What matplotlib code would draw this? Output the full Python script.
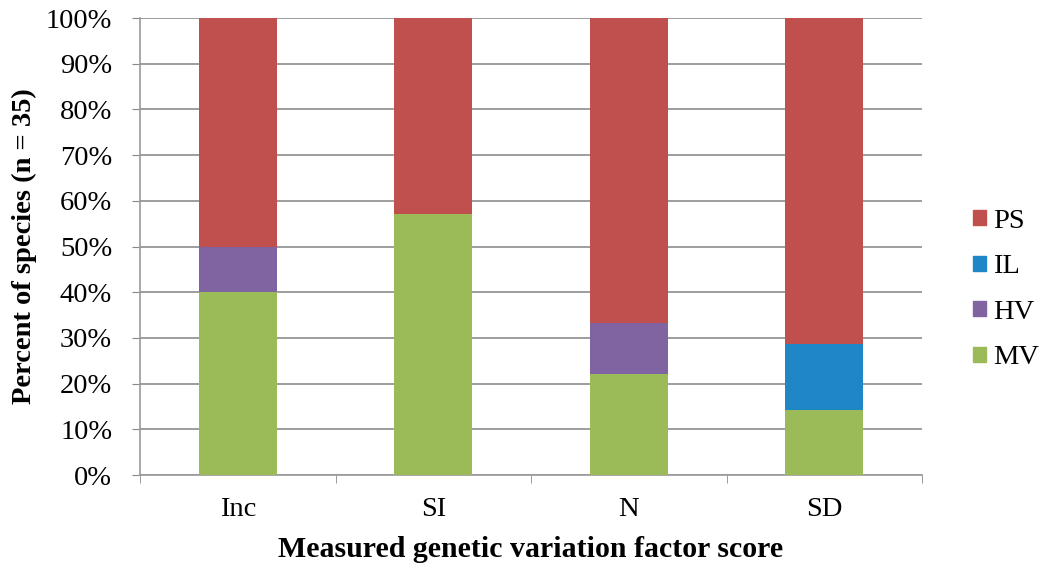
import matplotlib
matplotlib.use("Agg")
import matplotlib.pyplot as plt
import numpy as np
from matplotlib.patches import Patch

categories = ["Inc", "SI", "N", "SD"]
mv = [40.0, 57.1, 22.2, 14.3]
hv = [10.0, 0.0, 11.1, 0.0]
il = [0.0, 0.0, 0.0, 14.3]
ps = [50.0, 42.9, 66.7, 71.4]

series_names = ["MV", "HV", "IL", "PS"]
series_colors = ["#9BBB59", "#8064A2", "#1F87C6", "#C0504D"]

plt.rcParams["font.family"] = ["Liberation Serif", "DejaVu Serif"]

fig = plt.figure(figsize=(10.47, 5.68), dpi=100)
ax = fig.add_axes([0.1337, 0.1637, 0.747, 0.8046])

x = np.arange(len(categories))
bottom = np.zeros(len(categories))
for vals, name, col in zip([mv, hv, il, ps], series_names, series_colors):
    ax.bar(x, vals, 0.4, bottom=bottom, color=col, label=name, zorder=3)
    bottom += np.array(vals)

ax.set_xlim(-0.5, len(categories) - 0.5)
ax.set_ylim(0, 100)
ax.set_yticks(np.arange(0, 101, 10))
ax.set_yticklabels(["{}%".format(v) for v in range(0, 101, 10)], fontsize=20.5)
ax.set_xticks(x)
ax.set_xticklabels(categories, fontsize=20.5)
ax.tick_params(axis="x", which="major", length=0, pad=16)
ax.set_xticks(np.arange(-0.5, len(categories), 1.0), minor=True)
ax.tick_params(axis="x", which="minor", length=6, color="#888888")
ax.tick_params(axis="y", length=6, color="#888888", pad=14)
ax.yaxis.grid(True, color="#8c8c8c", linewidth=1.2, zorder=0)
for s in ["top", "right"]:
    ax.spines[s].set_visible(False)
for s in ["left", "bottom"]:
    ax.spines[s].set_color("#999999")
    ax.spines[s].set_linewidth(1.2)

ax.set_ylabel("Percent of species (n = 35)", fontsize=20.5, fontweight="bold", labelpad=6)
ax.set_xlabel("Measured genetic variation factor score", fontsize=21.5, fontweight="bold", labelpad=10)

handles = [Patch(color=c, label=n) for n, c in zip(series_names, series_colors)][::-1]
fig.legend(handles=handles, loc="center left", bbox_to_anchor=(0.905, 0.49),
           frameon=False, fontsize=20.5, handlelength=0.45, handleheight=0.45,
           handletextpad=0.25, labelspacing=0.72)

fig.savefig("out.png", dpi=100)
